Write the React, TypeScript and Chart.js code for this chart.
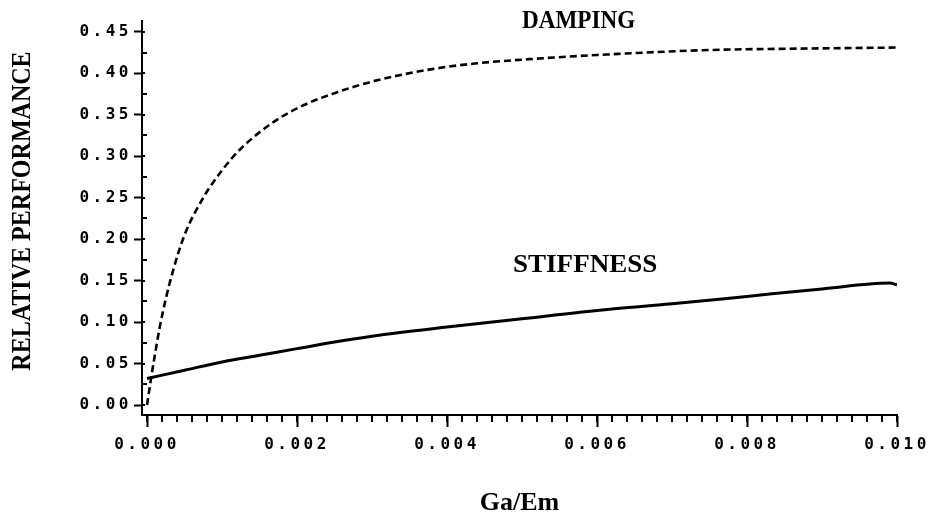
import React, { useEffect, useRef } from "react";
import { Chart, registerables } from "chart.js";

Chart.register(...registerables);

// ---- data ----
const dampingX = [0, 0.00005, 0.0001, 0.00017, 0.00025, 0.00035, 0.0005, 0.00075, 0.001, 0.00125, 0.0017, 0.0021, 0.0025, 0.003, 0.0038, 0.0044, 0.0051, 0.006, 0.0075, 0.009, 0.01];
const dampingY = [0.0, 0.03, 0.058, 0.094, 0.128, 0.163, 0.205, 0.25, 0.283, 0.309, 0.342, 0.362, 0.376, 0.39, 0.405, 0.412, 0.417, 0.422, 0.428, 0.43, 0.431];

const stiffnessX = [0, 0.0005, 0.001, 0.0015, 0.002, 0.0025, 0.003, 0.004, 0.005, 0.006, 0.007, 0.008, 0.009, 0.0099, 0.01];
const stiffnessY = [0.032, 0.042, 0.052, 0.06, 0.068, 0.076, 0.083, 0.094, 0.104, 0.114, 0.122, 0.131, 0.14, 0.147, 0.145];

const xTicks = [0, 0.002, 0.004, 0.006, 0.008, 0.01];
const xTickLabels = ["0.000", "0.002", "0.004", "0.006", "0.008", "0.010"];
const yTicks = [0, 0.05, 0.1, 0.15, 0.2, 0.25, 0.3, 0.35, 0.4, 0.45];
const yTickLabels = ["0.00", "0.05", "0.10", "0.15", "0.20", "0.25", "0.30", "0.35", "0.40", "0.45"];
const yMinor = [0.025, 0.075, 0.125, 0.175, 0.225, 0.275, 0.325, 0.375, 0.425];
const xMinorStep = 0.0002;

const xTitle = "Ga/Em";
const yTitle = "RELATIVE PERFORMANCE";
const labels = [
  { text: "DAMPING", x: 0.005, y: 0.463, sx: 0.89 },
  { text: "STIFFNESS", x: 0.00488, y: 0.169, sx: 1.04 },
];

function drawText(ctx: CanvasRenderingContext2D, text: string, x: number, y: number, size: number, sx: number, align: CanvasTextAlign, rot: number) {
  ctx.save();
  ctx.translate(x, y);
  ctx.rotate(rot);
  ctx.scale(sx, 1);
  ctx.font = `bold ${size}px "Liberation Serif", "Times New Roman", serif`;
  ctx.fillStyle = "#000";
  ctx.textAlign = align;
  ctx.textBaseline = "middle";
  ctx.fillText(text, 0, 0);
  ctx.restore();
}

const decor = {
  id: "decor",
  beforeDraw(chart: any) {
    (chart.ctx as any).letterSpacing = "3.5px";
  },
  afterDraw(chart: any) {
    const ctx = chart.ctx as CanvasRenderingContext2D;
    (ctx as any).letterSpacing = "0px";
    const xs = chart.scales.x;
    const ys = chart.scales.y;
    const { left, right, top, bottom } = chart.chartArea;
    ctx.save();
    ctx.strokeStyle = "#000";
    ctx.lineWidth = 2;
    ctx.beginPath();
    const n = Math.round(0.01 / xMinorStep);
    for (let i = 0; i <= n; i++) {
      const px = Math.round(xs.getPixelForValue(i * xMinorStep));
      ctx.moveTo(px, bottom);
      ctx.lineTo(px, bottom + 7);
    }
    for (const v of yMinor) {
      const py = Math.round(ys.getPixelForValue(v));
      ctx.moveTo(left, py);
      ctx.lineTo(left + 5, py);
    }
    for (const v of yTicks) {
      const py = Math.round(ys.getPixelForValue(v));
      ctx.moveTo(left, py);
      ctx.lineTo(left + 3, py);
    }
    ctx.stroke();
    ctx.restore();

    drawText(ctx, xTitle, (left + right) / 2, 503, 26, 1, "center", 0);
    drawText(ctx, yTitle, 23, (top + bottom) / 2 - 7, 27, 0.89, "center", -Math.PI / 2);
    for (const l of labels) {
      drawText(ctx, l.text, xs.getPixelForValue(l.x), ys.getPixelForValue(l.y), 26, l.sx, "left", 0);
    }
  },
};

export default function App() {
  const ref = useRef<HTMLCanvasElement | null>(null);
  useEffect(() => {
    if (!ref.current) return;
    const tickFont = { family: '"DejaVu Sans Mono", monospace', weight: "bold" as const, size: 16 };
    const chart = new Chart(ref.current, {
      type: "scatter",
      data: {
        datasets: [
          {
            label: "DAMPING",
            data: dampingX.map((x, i) => ({ x, y: dampingY[i] })),
            showLine: true,
            borderColor: "#000",
            borderWidth: 2.6,
            borderDash: [7, 4],
            pointRadius: 0,
            cubicInterpolationMode: "monotone",
            fill: false,
          },
          {
            label: "STIFFNESS",
            data: stiffnessX.map((x, i) => ({ x, y: stiffnessY[i] })),
            showLine: true,
            borderColor: "#000",
            borderWidth: 3,
            pointRadius: 0,
            cubicInterpolationMode: "monotone",
            fill: false,
          },
        ],
      },
      options: {
        animation: false,
        responsive: false,
        devicePixelRatio: 1,
        layout: { padding: { top: 21, right: 39, left: 0, bottom: 0 } },
        plugins: { legend: { display: false }, tooltip: { enabled: false }, title: { display: false } },
        scales: {
          x: {
            type: "linear",
            min: -0.000067,
            max: 0.01,
            afterBuildTicks: (s: any) => { s.ticks = xTicks.map((v) => ({ value: v })); },
            afterFit: (s: any) => { s.height = 105; },
            ticks: {
              color: "#000",
              font: tickFont,
              padding: 8,
              maxRotation: 0,
              autoSkip: false,
              callback: (v: any) => { const i = xTicks.findIndex((t) => Math.abs(t - v) < 1e-9); return i >= 0 ? xTickLabels[i] : ""; },
            },
            grid: { drawOnChartArea: false, color: "#000", tickLength: 12, tickWidth: 2 },
            border: { display: true, color: "#000", width: 2 },
          },
          y: {
            type: "linear",
            min: -0.012,
            max: 0.463,
            afterBuildTicks: (s: any) => { s.ticks = yTicks.map((v) => ({ value: v })); },
            afterFit: (s: any) => { s.width = 142; },
            ticks: {
              color: "#000",
              font: tickFont,
              padding: 2,
              autoSkip: false,
              callback: (v: any) => { const i = yTicks.findIndex((t) => Math.abs(t - v) < 1e-9); return i >= 0 ? yTickLabels[i] : ""; },
            },
            grid: { drawOnChartArea: false, color: "#000", tickLength: 8, tickWidth: 2 },
            border: { display: true, color: "#000", width: 2 },
          },
        },
      } as any,
      plugins: [decor],
    });
    return () => chart.destroy();
  }, []);
  return (
    <div style={{ position: "fixed", left: 0, top: 0, width: 936, height: 520, background: "#fff" }}>
      <canvas ref={ref} width={936} height={520} />
    </div>
  );
}
